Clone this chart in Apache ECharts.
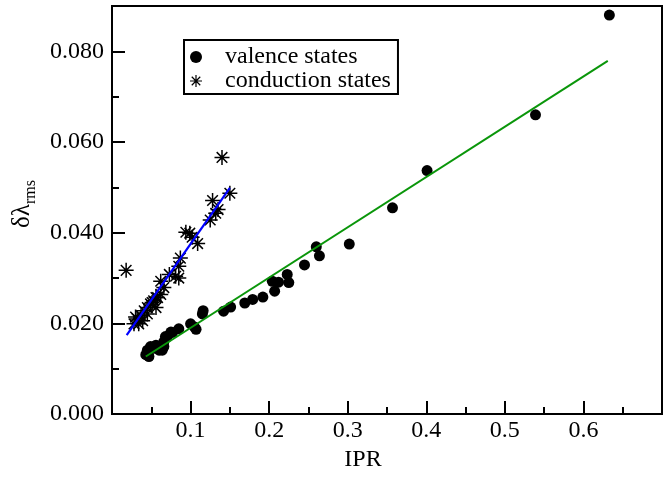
<!DOCTYPE html>
<html>
<head>
<meta charset="utf-8">
<script src="https://cdn.jsdelivr.net/npm/echarts@6/dist/echarts.min.js"></script>
<style>html,body{margin:0;padding:0;background:#fff;}#c{width:672px;height:477px;}</style>
</head>
<body>
<div id="c"></div>
<script>
// Valence states (IPR, delta lambda rms)
var valenceX = [0.043,0.047,0.045,0.049,0.053,0.056,0.060,0.064,0.066,0.066,0.068,0.070,0.075,0.077,0.085,0.100,0.105,0.107,0.115,0.116,0.142,0.151,0.169,0.179,0.192,0.204,0.207,0.212,0.223,0.225,0.245,0.260,0.264,0.302,0.357,0.401,0.539,0.633];
var valenceY = [0.0131,0.0127,0.0141,0.0149,0.0145,0.0152,0.0141,0.0141,0.0149,0.0160,0.0171,0.0170,0.0181,0.0180,0.0188,0.0199,0.0192,0.0187,0.0221,0.0228,0.0227,0.0236,0.0245,0.0253,0.0258,0.0293,0.0271,0.0291,0.0308,0.0290,0.0329,0.0369,0.0349,0.0375,0.0455,0.0537,0.0660,0.0880];
// Conduction states
var conductionX = [0.018,0.028,0.030,0.032,0.034,0.037,0.039,0.041,0.045,0.045,0.049,0.051,0.053,0.056,0.056,0.058,0.062,0.062,0.066,0.073,0.081,0.085,0.085,0.087,0.094,0.099,0.102,0.109,0.125,0.132,0.135,0.128,0.150,0.140];
var conductionY = [0.0317,0.0199,0.0214,0.0210,0.0199,0.0217,0.0206,0.0228,0.0221,0.0235,0.0243,0.0246,0.0250,0.0235,0.0257,0.0257,0.0264,0.0293,0.0279,0.0308,0.0304,0.0300,0.0326,0.0344,0.0401,0.0399,0.0390,0.0376,0.0428,0.0443,0.0451,0.0471,0.0487,0.0566];
// Linear fits (end points)
var valenceFitX = [0.043, 0.631];
var valenceFitY = [0.0127, 0.0779];
var conductionFitX = [0.0187, 0.150];
var conductionFitY = [0.0174, 0.0499];
// Legend / axis texts
var seriesNames = ['valence states', 'conduction states'];
var xAxisName = 'IPR';

function zip(a, b) { return a.map(function (v, i) { return [v, b[i]]; }); }

var star = 'path://M0 9L20 9L20 11L0 11Z' +
  'M9 0L11 0L11 20L9 20Z' +
  'M3.64 2.22L17.78 16.36L16.36 17.78L2.22 3.64Z' +
  'M17.78 3.64L3.64 17.78L2.22 16.36L16.36 2.22Z';

var font = 'Liberation Serif';
var chart = echarts.init(document.getElementById('c'), null, {renderer: 'canvas'});
chart.setOption({
  animation: false,
  backgroundColor: '#fff',
  textStyle: {fontFamily: font},
  grid: {left: 112, top: 6, right: 10, bottom: 55, show: true, borderColor: '#000', borderWidth: 2, backgroundColor: 'transparent'},
  legend: {
    data: seriesNames,
    orient: 'vertical',
    left: 184, top: 40,
    borderColor: '#000', borderWidth: 2,
    padding: [5, 7, 1, 6],
    itemGap: 0,
    itemWidth: 28, itemHeight: 12,
    textStyle: {fontFamily: font, fontSize: 24, color: '#000', lineHeight: 23, padding: [0, 0, 0, 10]}
  },
  xAxis: {
    type: 'value', min: 0, max: 0.7, interval: 0.1,
    name: xAxisName, nameLocation: 'middle', nameGap: 26,
    nameTextStyle: {fontFamily: font, fontSize: 24, color: '#000', padding: [0, 48, 0, 0]},
    axisLine: {show: true, lineStyle: {color: '#000', width: 2}},
    axisTick: {show: true, inside: true, length: 13, lineStyle: {color: '#000', width: 2}},
    minorTick: {show: true, splitNumber: 2, length: 7, lineStyle: {color: '#000', width: 2}},
    splitLine: {show: false},
    axisLabel: {fontFamily: font, fontSize: 24, color: '#000', margin: 5,
      formatter: function (v) { var r = Math.round(v * 10) / 10; return (r === 0 || r >= 0.7) ? '' : r.toFixed(1); }}
  },
  yAxis: {
    type: 'value', min: 0, max: 0.09, interval: 0.02,
    name: '{a|δλ}{b|rms}', nameLocation: 'middle', nameGap: 58, nameRotate: 90,
    nameTextStyle: {padding: [0, 0, 0, 12], rich: {
      a: {fontFamily: font, fontSize: 25, color: '#000', lineHeight: 25, verticalAlign: 'top'},
      b: {fontFamily: font, fontSize: 16, color: '#000', lineHeight: 16, verticalAlign: 'top', padding: [13, 0, 0, 0]}
    }},
    axisLine: {show: true, lineStyle: {color: '#000', width: 2}},
    axisTick: {show: true, inside: true, length: 13, lineStyle: {color: '#000', width: 2}},
    minorTick: {show: true, splitNumber: 2, length: 7, lineStyle: {color: '#000', width: 2}},
    splitLine: {show: false},
    axisLabel: {fontFamily: font, fontSize: 24, color: '#000', margin: 8,
      formatter: function (v) { return v >= 0.089 ? '' : v.toFixed(3); }}
  },
  series: [
    {name: seriesNames[0], type: 'scatter', data: zip(valenceX, valenceY), symbol: 'circle', symbolSize: 11,
      itemStyle: {color: '#000', opacity: 1}, z: 2},
    {name: seriesNames[1], type: 'scatter', data: zip(conductionX, conductionY), symbol: star, symbolSize: 15,
      itemStyle: {color: '#000', opacity: 1}, z: 2},
    {name: 'valence fit', type: 'line', data: zip(valenceFitX, valenceFitY), showSymbol: false, symbol: 'none',
      lineStyle: {color: '#0a960a', width: 2}, z: 3},
    {name: 'conduction fit', type: 'line', data: zip(conductionFitX, conductionFitY), showSymbol: false, symbol: 'none',
      lineStyle: {color: '#0000ff', width: 2.2}, z: 3}
  ]
});
</script>
</body>
</html>
